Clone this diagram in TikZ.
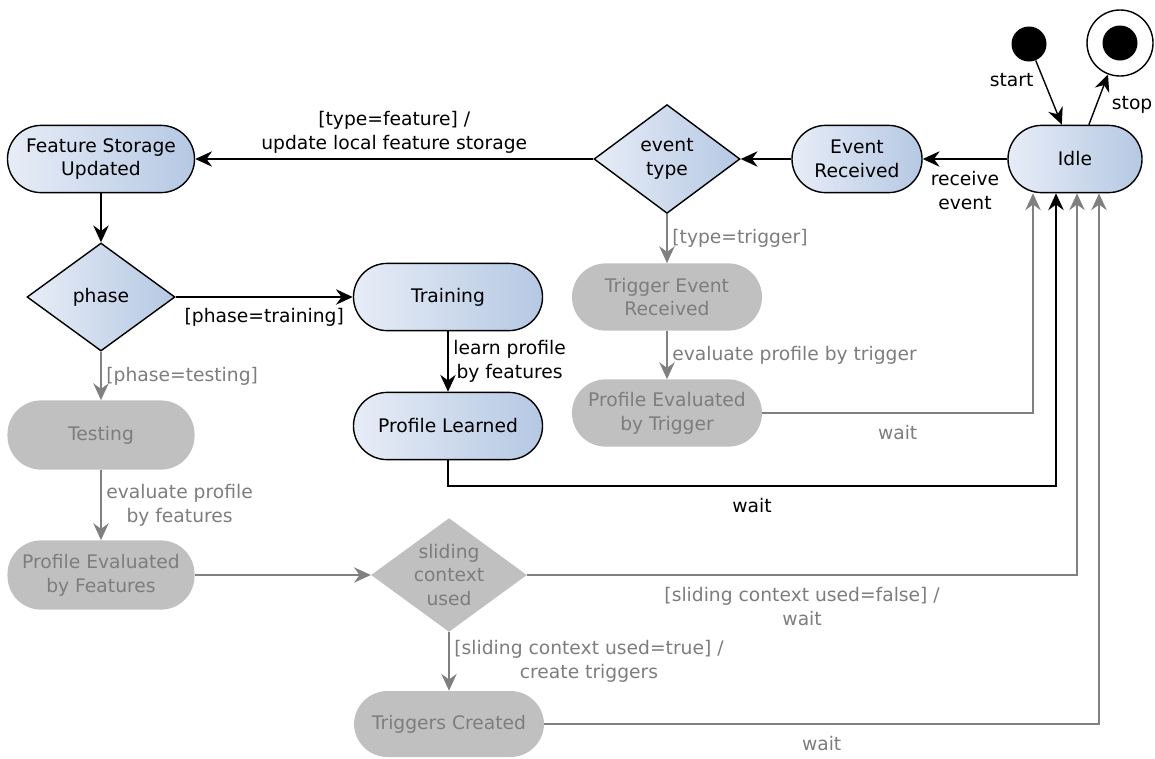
\documentclass[tikz,border=0pt]{standalone}
\usepackage{fontspec}
\setmainfont{DejaVu Sans}
\usetikzlibrary{shapes.geometric,arrows.meta}
\definecolor{boxleft}{RGB}{231,237,247}
\definecolor{boxright}{RGB}{181,200,227}
\definecolor{offfill}{RGB}{192,192,192}
\definecolor{offtext}{RGB}{125,125,125}
\definecolor{offline}{RGB}{128,128,128}
\tikzset{
  state/.style={draw=black, line width=1pt, rounded corners=0.84cm, minimum height=1.68cm,
    left color=boxleft, right color=boxright, align=center, inner sep=2pt},
  offstate/.style={fill=offfill, text=offtext, rounded corners=0.84cm, minimum height=1.68cm,
    align=center, inner sep=2pt},
  choice/.style={diamond, aspect=1.37, draw=black, line width=1pt,
    left color=boxleft, right color=boxright, align=center, inner sep=0pt},
  offchoice/.style={diamond, aspect=1.37, fill=offfill, text=offtext, align=center, inner sep=0pt},
  trans/.style={-{Stealth[length=12pt,width=11pt,inset=4pt]}, line width=1pt},
  offtrans/.style={trans, draw=offline, text=offtext},
}
\begin{document}
\begin{tikzpicture}[x=0.025cm,y=-0.025cm,font=\fontsize{13.3}{17}\selectfont]
  \useasboundingbox (0,0) rectangle (1155,758);

  \node[circle, fill, minimum size=0.875cm, inner sep=0pt] (start) at (1029,44) {};
  \node[circle, draw, line width=1pt, minimum size=1.65cm, inner sep=0pt] (stop) at (1120,43) {};
  \node[circle, fill, minimum size=0.875cm, inner sep=0pt] (stopdot) at (stop) {};

  \node[state, minimum width=3.35cm] (idle) at (1075,159) {Idle};
  \node[state, minimum width=3.25cm] (recv) at (857,159) {Event\\Received};
  \node[choice, minimum width=3.65cm, minimum height=2.72cm] (type) at (667,159) {event\\type};
  \node[state, minimum width=4.675cm] (stored) at (101,159) {Feature Storage\\Updated};
  \node[choice, minimum width=3.7cm, minimum height=2.7cm] (phase) at (101,297) {phase};
  \node[state, minimum width=4.725cm] (training) at (448,297) {Training};
  \node[state, minimum width=4.725cm] (learned) at (448,426) {Profile Learned};

  \node[offstate, minimum width=4.75cm] (trigrecv) at (667,297) {Trigger Event\\Received};
  \node[offstate, minimum width=4.75cm] (trigeval) at (667,413) {Profile Evaluated\\by Trigger};
  \node[offstate, minimum width=4.675cm, minimum height=1.73cm] (testing) at (101,435) {Testing};
  \node[offstate, minimum width=4.675cm, minimum height=1.73cm] (feateval) at (101,575) {Profile Evaluated\\by Features};
  \node[offchoice, minimum width=3.72cm, minimum height=2.72cm] (sliding) at (449,575) {sliding\\context\\used};
  \node[offstate, minimum width=4.75cm, minimum height=1.65cm] (created) at (449,724) {Triggers Created};

  \foreach \n/\x in {1/1033,2/1056,3/1077,4/1099}
    \coordinate (in\n) at (\x,0);
  \coordinate (waitcorner) at (1056,486);

  \draw[trans] (start) -- (idle.111) node[pos=0.3, left=0.12cm] {start};
  \draw[trans] (idle.68) -- (stop) node[pos=0.4, right=0.25cm] {stop};
  \draw[trans] (idle) -- (recv) node[midway, below=5pt, align=center] {receive\\event};
  \draw[trans] (recv) -- (type);
  \draw[trans] (type) -- (stored) node[midway, above, align=center] {[type=feature] /\\update local feature storage};
  \draw[trans] (stored) -- (phase);
  \draw[trans] (phase) -- (training) node[midway, below=4pt] {[phase=training]};
  \draw[trans] (training) -- (learned) node[midway, right, align=center] {learn profile\\by features};
  \draw[trans] (learned) |- node[pos=0.75, below=5pt] {wait} (waitcorner) -- (idle.south -| in2);

  \draw[offtrans] (type) -- (trigrecv) node[midway, right] {[type=trigger]};
  \draw[offtrans] (trigrecv) -- (trigeval) node[midway, right] {evaluate profile by trigger};
  \draw[offtrans] (trigeval) -| node[pos=0.25, below=5pt] {wait} (idle.south -| in1);
  \draw[offtrans] (phase) -- (testing) node[midway, right] {[phase=testing]};
  \draw[offtrans] (testing) -- (feateval) node[midway, right, align=center] {evaluate profile\\by features};
  \draw[offtrans] (feateval) -- (sliding);
  \draw[offtrans] (sliding) -| node[pos=0.25, below=5pt, align=center] {[sliding context used=false] /\\wait} (idle.south -| in3);
  \draw[offtrans] (sliding) -- (created) node[midway, right, align=center] {[sliding context used=true] /\\create triggers};
  \draw[offtrans] (created) -| node[pos=0.25, below=5pt] {wait} (idle.south -| in4);
\end{tikzpicture}
\end{document}
